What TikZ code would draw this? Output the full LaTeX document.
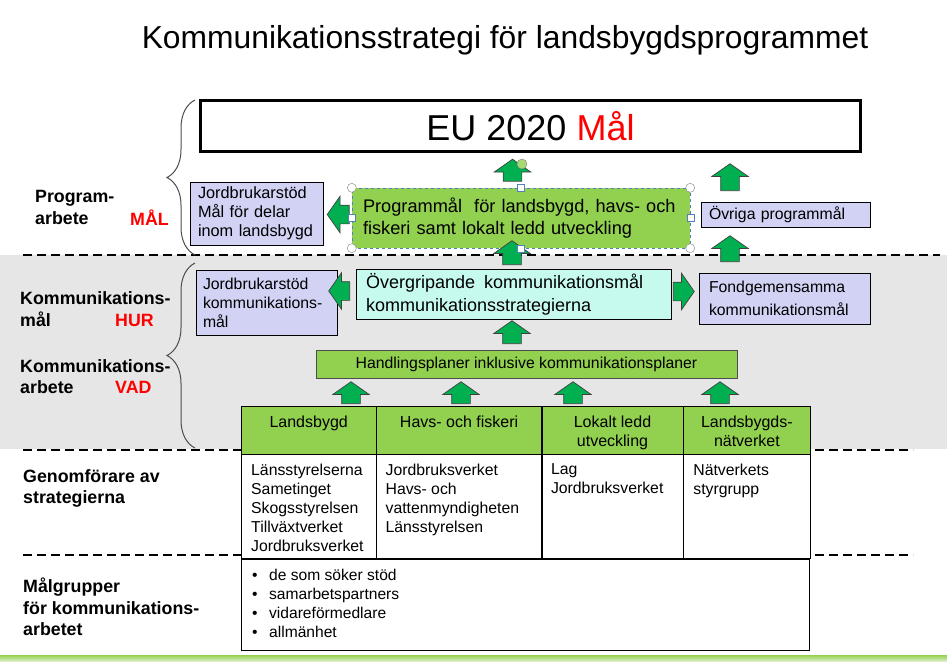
\documentclass[tikz,border=0pt]{standalone}
\usepackage{fontspec}
\setmainfont{Liberation Sans}
\usetikzlibrary{positioning,shapes.arrows,decorations.pathreplacing}
\definecolor{pgreen}{HTML}{92D050}
\definecolor{agreen}{HTML}{00B050}
\definecolor{plav}{HTML}{D2D2F5}
\definecolor{pcyan}{HTML}{C6FAEE}
\definecolor{pgray}{HTML}{E6E6E6}
\definecolor{selblue}{HTML}{4F81BD}
\newcommand{\fs}[2]{\fontsize{#1}{#2}\selectfont}

\begin{document}
\begin{tikzpicture}[x=1pt,y=-1pt,
  sep/.style={line width=2pt, dash pattern=on 9pt off 5pt},
  brc/.style={decorate, decoration={brace,amplitude=28pt}, draw=black!70, line width=1pt},
  lbl/.style={anchor=west, align=left, inner sep=0pt, font=\fs{17.8}{21.5}\bfseries},
  key/.style={anchor=west, inner sep=0pt, text=red, font=\fs{17.8}{21}\bfseries},
  box/.style={draw, fill=plav, align=left, inner xsep=8pt, inner ysep=0pt, font=\fs{16.3}{19}},
  eubox/.style={draw, line width=3pt, minimum width=660pt, minimum height=51pt, font=\fs{36}{40}},
  barrow/.style={single arrow, draw=black!75, fill=agreen, line width=0.7pt,
    inner xsep=0pt, inner ysep=9pt, single arrow head extend=9pt,
    single arrow tip angle=110, minimum height=#1},
  hcell/.style={draw, fill=pgreen, anchor=north west, minimum height=48pt, inner sep=0pt},
  bcell/.style={draw, fill=white, anchor=north west, minimum height=104pt, inner sep=0pt},
  htxt/.style={inner sep=0pt, align=center, font=\fs{16}{19}},
  btxt/.style={inner sep=0pt, align=left, font=\fs{15.8}{19}},
  hcirc/.style={circle, draw=black!50, fill=white, minimum size=9pt, inner sep=0pt},
  hsq/.style={draw=selblue, fill=white, minimum size=7pt, inner sep=0pt}]
\useasboundingbox (0,0) rectangle (947,661);
% bands and separators
\fill[pgray] (0,255) rectangle (947,449);
\shade[top color=pgreen, bottom color=pgreen!35] (0,655) rectangle (947,661);
\draw[sep] (23,255) -- (940,255);
\draw[sep] (23,450) -- (241,450);
\draw[sep] (815,450) -- (913,450);
\draw[sep] (23,555) -- (241,555);
\draw[sep] (815,555) -- (913,555);
\draw[brc] (195,255) -- (195,100);
\draw[brc] (195,448) -- (195,263);
% title and left labels
\node[font=\fs{31.8}{36}] (title) at (505,40) {Kommunikationsstrategi för landsbygdsprogrammet};
\node[lbl] (lprog) at (35,207.5) {Program-\\arbete};
\node[key] (kmal) at (130,218) {MÅL};
\node[lbl] (lkmal) at (20,309) {Kommunikations-\\mål};
\node[key] (khur) at (115,320) {HUR};
\node[lbl] (lkarb) at (20,376.5) {Kommunikations-\\arbete};
\node[key] (kvad) at (115,387) {VAD};
\node[lbl] (lgen) at (23,488.5) {Genomförare av\\strategierna};
\node[lbl] (lmalg) at (23,607) {Målgrupper\\för kommunikations-\\arbetet};
% goal boxes
\node[eubox] (eu) at (530.5,126) {EU 2020 \textcolor{red}{Mål}};
\node[box, text width=117pt, minimum height=63pt] (jbmal) at (256.5,213.5) {Jordbrukarstöd\\Mål för delar\\inom landsbygd};
\node[box, fill=pgreen, draw=selblue, dashed, inner xsep=11pt, text width=316pt, minimum height=60pt,
  font=\fs{18.2}{22}] (prog) at (521,218) {Programmål~~för landsbygd, havs- och\\fiskeri samt lokalt ledd utveckling};
\node[box, text width=153pt, minimum height=25pt, font=\fs{15.8}{18}] (ovriga) at (785.5,214.5) {Övriga programmål};
\node[box, inner xsep=7pt, text width=127pt, minimum height=65pt, font=\fs{15.8}{19}] (jbkom) at (266.5,302.5) {Jordbrukarstöd\\kommunikations-\\mål};
\node[box, fill=pcyan, inner xsep=10pt, text width=295pt, minimum height=50pt, font=\fs{18}{23}] (overgr) at (513.5,294) {Övergripande\hspace{3pt} kommunikationsmål\\kommunikationsstrategierna};
\node[box, inner xsep=10pt, text width=151pt, minimum height=51pt, font=\fs{15.8}{23}] (fond) at (784.5,298.5) {Fondgemensamma\\kommunikationsmål};
\node[box, fill=pgreen, draw=black!70, align=center, minimum width=421pt, minimum height=28pt,
  font=\fs{15.8}{18}] (handl) at (526.5,364) {Handlingsplaner inklusive kommunikationsplaner};
% table
\node[hcell, minimum width=135pt] (h1) at (241,406) {};
\node[hcell, minimum width=165pt, right=0pt of h1] (h2) {};
\node[hcell, minimum width=141pt, right=0pt of h2] (h3) {};
\node[hcell, minimum width=127pt, right=0pt of h3] (h4) {};
\node[bcell, minimum width=135pt] (b1) at (h1.south west) {};
\node[bcell, minimum width=165pt, right=0pt of b1] (b2) {};
\node[bcell, minimum width=141pt, right=0pt of b2] (b3) {};
\node[bcell, minimum width=127pt, right=0pt of b3] (b4) {};
\node[bcell, minimum width=568pt, minimum height=91pt] (bl) at (b1.south west) {};
\node[htxt, below=9.5pt of h1.north] (t1) {Landsbygd};
\node[htxt, below=9.5pt of h2.north] (t2) {Havs- och fiskeri};
\node[htxt, below=9.5pt of h3.north] (t3) {Lokalt ledd\\utveckling};
\node[htxt, below=9.5pt of h4.north] (t4) {Landsbygds-\\nätverket};
\node[btxt, below right=9.4pt and 10pt of b1.north west] (g1) {Länsstyrelserna\\Sametinget\\Skogsstyrelsen\\Tillväxtverket\\Jordbruksverket};
\node[btxt, below right=9.4pt and 9pt of b2.north west] (g2) {Jordbruksverket\\Havs- och\\vattenmyndigheten\\Länsstyrelsen};
\node[btxt, below right=9.4pt and 9pt of b3.north west] (g3) {Lag\\Jordbruksverket};
\node[btxt, below right=9.4pt and 10pt of b4.north west] (g4) {Nätverkets\\styrgrupp};
\node[btxt, font=\fs{15.6}{19}, below right=10.5pt and 11pt of bl.north west] (mg)
  {\makebox[17pt][l]{\textbullet}de som söker stöd\\\makebox[17pt][l]{\textbullet}samarbetspartners\\
   \makebox[17pt][l]{\textbullet}vidareförmedlare\\\makebox[17pt][l]{\textbullet}allmänhet};
% block arrows
\node[barrow=22pt, rotate=90] (a1) at (512.5,173.5) {};
\node[barrow=24pt, rotate=90] (a2) at (512,256) {};
\node[barrow=27pt, rotate=90] (a3) at (730,180.5) {};
\node[barrow=26pt, rotate=90] (a4) at (730,252) {};
\node[barrow=23pt, rotate=90] (a5) at (512,335.5) {};
\node[barrow=22pt, rotate=90] (a6) at (351,396) {};
\node[barrow=22pt, rotate=90] (a7) at (461,396) {};
\node[barrow=22pt, rotate=90] (a8) at (573,396) {};
\node[barrow=22pt, rotate=90] (a9) at (720,396) {};
\node[barrow=22pt, rotate=180] (l1) at (341.5,214.5) {};
\node[barrow=21pt, rotate=180] (l2) at (342.5,291) {};
\node[barrow=21pt] (r1) at (680.5,291.5) {};
% selection handles on the programme box
\foreach \a/\n in {north west/hnw, north east/hne, south west/hsw, south east/hse}
  \node[hcirc] (\n) at (prog.\a) {};
\foreach \a/\n in {north/hn, south/hs, east/he, west/hw}
  \node[hsq] (\n) at (prog.\a) {};
\node[hcirc, fill=pgreen!80, minimum size=10pt] (hrot) at (522,164) {};
\end{tikzpicture}
\end{document}
